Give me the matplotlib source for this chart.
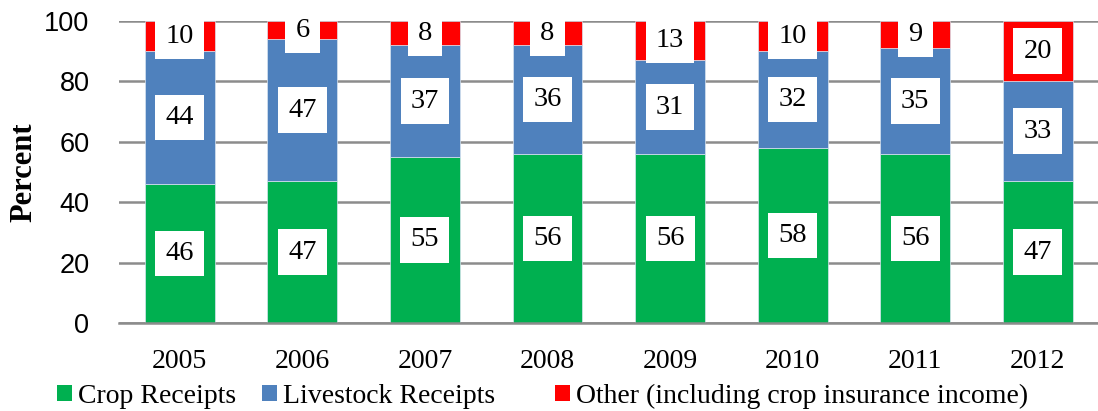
import matplotlib
matplotlib.use("Agg")
import matplotlib.pyplot as plt
from matplotlib.patches import Patch
import numpy as np

years = ["2005", "2006", "2007", "2008", "2009", "2010", "2011", "2012"]
crop = [46, 47, 55, 56, 56, 58, 56, 47]
livestock = [44, 47, 37, 36, 31, 32, 35, 33]
other = [10, 6, 8, 8, 13, 10, 9, 20]

series_names = ["Crop Receipts", "Livestock Receipts", "Other (including crop insurance income)"]
colors = ["#00B050", "#4F81BD", "#FF0000"]

serif = ["Liberation Serif", "DejaVu Serif"]
sans = ["Liberation Sans", "DejaVu Sans"]

fig = plt.figure(figsize=(10.98, 4.11), dpi=100)
ax = fig.add_axes([0.108, 0.214, 0.893, 0.735])

x = np.arange(len(years))
width = 0.57
bottoms = np.zeros(len(years))
for vals, col in zip([crop, livestock, other], colors):
    vals = np.array(vals, dtype=float)
    ax.bar(x, vals, width, bottom=bottoms, color=col, edgecolor="#d8e4f0",
           linewidth=0.5, zorder=2)
    for xi, b, v in zip(x, bottoms, vals):
        ax.text(xi, b + v / 2, f"{int(v)}", ha="center", va="center",
                fontsize=20.5, family=serif, color="black", zorder=4,
                bbox=dict(boxstyle="square,pad=0.36", facecolor="white", edgecolor="none"))
    bottoms = bottoms + vals

ax.set_xlim(-0.5, len(years) - 0.5)
ax.set_ylim(0, 100)
ax.set_yticks([0, 20, 40, 60, 80, 100])
ax.yaxis.grid(True, color="#8c8c8c", linewidth=1.8, zorder=0)
ax.set_axisbelow(True)
for s in ["top", "right", "left"]:
    ax.spines[s].set_visible(False)
ax.spines["bottom"].set_color("#8c8c8c")
ax.spines["bottom"].set_linewidth(1.8)
ax.tick_params(axis="both", length=0)
ax.tick_params(axis="y", pad=21)
ax.tick_params(axis="x", pad=19)
ax.set_xticks(x)
ax.set_xticklabels(years, fontsize=20, family=serif)
for lab in ax.get_yticklabels():
    lab.set_fontsize(19.5)
    lab.set_family(sans)
ax.set_ylabel("Percent", fontsize=22, family=serif, fontweight="bold", labelpad=4)

# legend entries placed individually (Excel-like spacing)
legend_x = [0.0519, 0.2386, 0.5055]
for name, col, lx in zip(series_names, colors, legend_x):
    leg = fig.legend([Patch(facecolor=col, edgecolor="none")], [name],
                     loc="center left", bbox_to_anchor=(lx, 0.036),
                     frameon=False, prop={"family": serif, "size": 20},
                     handlelength=0.55, handleheight=0.55, handletextpad=0.2,
                     borderpad=0, borderaxespad=0)

fig.savefig("out.png", dpi=100)
